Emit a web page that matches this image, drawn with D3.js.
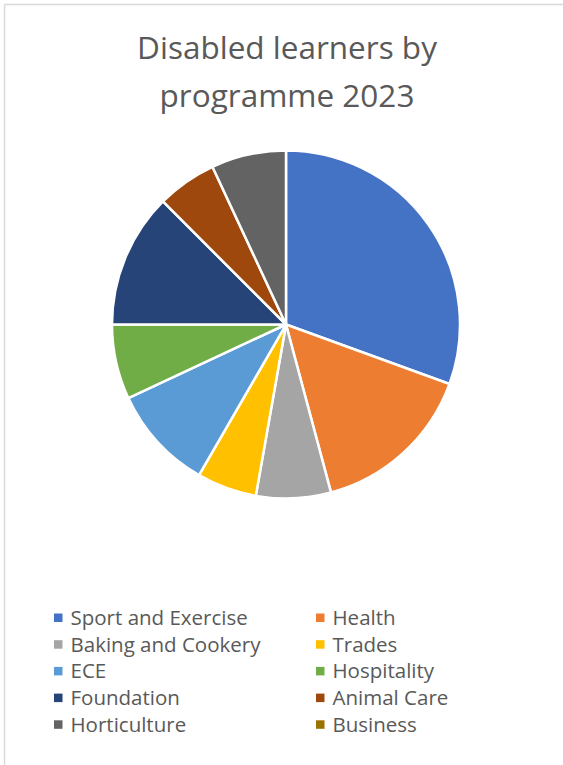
<!DOCTYPE html>
<html>
<head>
<meta charset="utf-8">
<script src="https://cdn.jsdelivr.net/npm/d3@7"></script>
<style>
  html, body { margin: 0; padding: 0; background: #fff; }
  svg { display: block; }
  text { font-family: "Open Sans", Lato, sans-serif; fill: #595959; }
</style>
</head>
<body>
<script>
// Learner counts by programme (2023)
const programmes = ["Sport and Exercise", "Health", "Baking and Cookery", "Trades", "ECE",
                    "Hospitality", "Foundation", "Animal Care", "Horticulture", "Business"];
const learners = [22, 11, 5, 4, 7, 5, 9, 4, 5, 0];
const sliceColours = ["#4472C4", "#ED7D31", "#A5A5A5", "#FFC000", "#5B9BD5",
                      "#70AD47", "#264478", "#9E480E", "#636363", "#997300"];
const titleLines = ["Disabled learners by", "programme 2023"];

const W = 563, H = 765;
const svg = d3.select("body").append("svg").attr("width", W).attr("height", H);

// chart frame: only top and left edges are visible in this crop
svg.append("line").attr("x1", 4.5).attr("x2", W).attr("y1", 4.5).attr("y2", 4.5)
  .attr("stroke", "#d9d9d9").attr("stroke-width", 1.5);
svg.append("line").attr("x1", 4.5).attr("x2", 4.5).attr("y1", 4.5).attr("y2", H)
  .attr("stroke", "#d9d9d9").attr("stroke-width", 1.5);

// title
const title = svg.append("g");
titleLines.forEach((t, i) => {
  title.append("text")
    .attr("x", 287).attr("y", 59 + i * 48)
    .attr("text-anchor", "middle")
    .style("font-size", "31.5px")
    .text(t);
});

// pie
const data = programmes.map((p, i) => ({ name: p, value: learners[i] }));
const pie = d3.pie().sort(null).value(d => d.value);
const arc = d3.arc().innerRadius(0).outerRadius(174);
const colour = d3.scaleOrdinal().domain(programmes).range(sliceColours);

svg.append("g")
  .attr("transform", "translate(286,324.5)")
  .selectAll("path")
  .data(pie(data).filter(d => d.data.value > 0))
  .join("path")
  .attr("d", arc)
  .attr("fill", d => colour(d.data.name))
  .attr("stroke", "#fff")
  .attr("stroke-width", 2.5)
  .attr("stroke-linejoin", "round");

// legend: two columns, row-major
const legend = svg.append("g");
const colX = [54, 316];
const rowY0 = 625, rowStep = 26.7;
const items = legend.selectAll("g.item")
  .data(programmes)
  .join("g")
  .attr("class", "item")
  .attr("transform", (d, i) => `translate(${colX[i % 2]},${rowY0 + Math.floor(i / 2) * rowStep})`);

items.append("rect")
  .attr("x", 0).attr("y", -11.5).attr("width", 8.5).attr("height", 8.5)
  .attr("fill", d => colour(d));

items.append("text")
  .attr("x", 16.5).attr("y", 0)
  .style("font-size", "20.5px")
  .text(d => d);
</script>
</body>
</html>
